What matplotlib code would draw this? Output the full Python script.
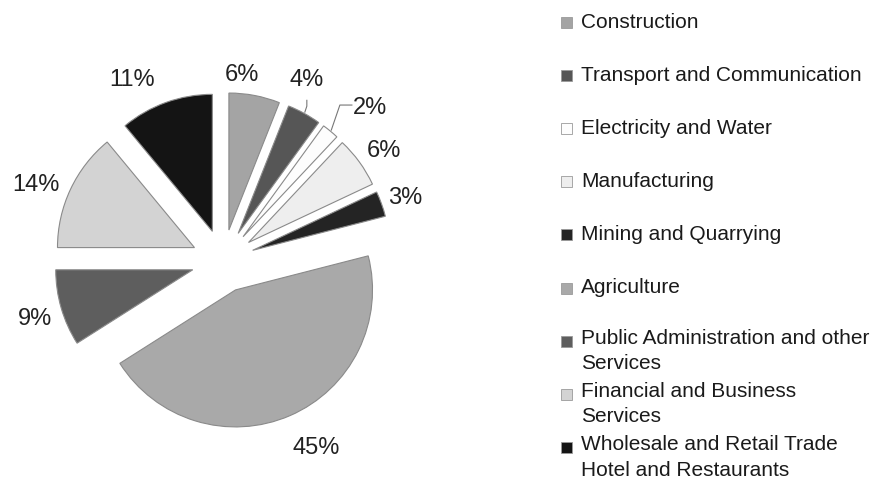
import matplotlib
matplotlib.use("Agg")
import matplotlib.pyplot as plt
from matplotlib.patches import Rectangle
import numpy as np

plt.rcParams['font.family'] = ['Liberation Sans', 'DejaVu Sans']

# share of GDP by sector, clockwise from 12 o'clock
sectors = [
    "Construction",
    "Transport and Communication",
    "Electricity and Water",
    "Manufacturing",
    "Mining and Quarrying",
    "Agriculture",
    "Public Administration and other\nServices",
    "Financial and Business\nServices",
    "Wholesale and Retail Trade\nHotel and Restaurants",
]
shares = [6, 4, 2, 6, 3, 45, 9, 14, 11]
colors = ["#a4a4a4", "#565656", "#fdfdfd", "#eeeeee", "#242424",
          "#a9a9a9", "#5e5e5e", "#d3d3d3", "#141414"]

# hand nudges for the percentage labels (px, x right / y down)
label_nudge = [(-18, 6), (-11, -9), (22, -2), (2, 5), (-2, 3),
               (15, 7), (0, 3), (-10, 7), (-25, 3)]

W, H = 879, 478
fig = plt.figure(figsize=(W / 100, H / 100), dpi=100)
ax = fig.add_axes([0, 0, 1, 1])

cx, cy, r = 223, H - 261, 137
# pie() takes explode in data units, so scale it by the radius
wedges, _, pct = ax.pie(
    shares, colors=colors, radius=r, center=(cx, cy),
    startangle=90, counterclock=False, explode=[0.23 * r] * len(shares),
    autopct="%.0f%%", pctdistance=1.2,
    wedgeprops=dict(edgecolor="#8a8a8a", linewidth=0.8),
    textprops=dict(fontsize=17, color="#222222"),
)
for t, (dx, dy) in zip(pct, label_nudge):
    x, y = t.get_position()
    t.set_position((x + dx, y - dy))

# leader lines for the two thin slices
for i in (1, 2):
    w = wedges[i]
    ang = np.deg2rad((w.theta1 + w.theta2) / 2)
    ox, oy = w.center
    x0, y0 = ox + r * 1.01 * np.cos(ang), oy + r * 1.01 * np.sin(ang)
    tx, ty = pct[i].get_position()
    if i == 2:
        ax.plot([x0, tx - 30, tx - 18], [y0, ty + 3, ty + 3],
                color="#777777", lw=0.8)
    else:
        ax.plot([x0, x0 + 2, x0 + 2], [y0, y0 + 6, ty - 20],
                color="#777777", lw=0.8)

# legend on the right, fixed pitch per entry
lx, ly0, pitch = 561, 22, 53.1
for i, (name, col) in enumerate(zip(sectors, colors)):
    y = H - (ly0 + pitch * i)
    ax.add_patch(Rectangle((lx, y - 6), 11, 11, facecolor=col,
                           edgecolor="#9a9a9a", linewidth=0.6))
    ax.text(lx + 20, y + 12 if "\n" in name else y, name, fontsize=15,
            va="top" if "\n" in name else "center", ha="left",
            color="#1a1a1a", linespacing=1.45)

ax.set_xlim(0, W)
ax.set_ylim(0, H)
ax.set_aspect("equal")
ax.axis("off")

fig.savefig("out.png", dpi=100)
